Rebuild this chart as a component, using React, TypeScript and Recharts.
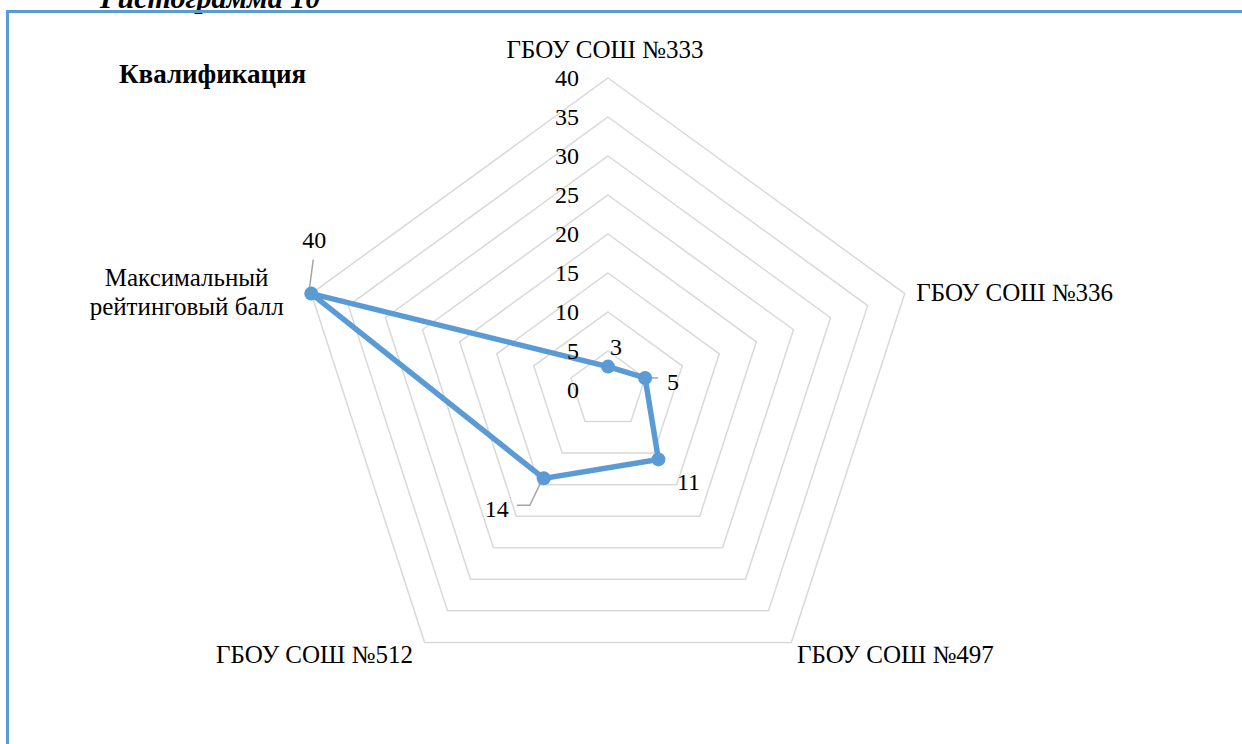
import React from 'react';
import { RadarChart, Radar, PolarGrid, PolarAngleAxis, PolarRadiusAxis, LabelList } from 'recharts';

const categories = [
  'ГБОУ СОШ №333',
  'ГБОУ СОШ №336',
  'ГБОУ СОШ №497',
  'ГБОУ СОШ №512',
  'Максимальный рейтинговый балл',
];
const values = [3, 5, 11, 14, 40];
const radiusTicks = [0, 5, 10, 15, 20, 25, 30, 35, 40];

const chartData = categories.map((name, i) => ({ name, value: values[i] }));

const FONT = '"Times New Roman", Times, "Liberation Serif", "Noto Serif", "DejaVu Serif", FreeSerif, serif';
const BLUE = '#5b9bd5';

// per-category placement of the axis labels (relative to recharts' tick point)
const angleTickPlace = [
  { dx: -3, dy: -12, anchor: 'middle' },
  { dx: 4, dy: 10, anchor: 'start' },
  { dx: 1, dy: 14, anchor: 'start' },
  { dx: -7, dy: 14, anchor: 'end' },
  { dx: -117, dy: -5, anchor: 'middle' },
];

// data label offsets + optional leader lines (relative to the point)
const labelPlace = [
  { dx: 8, dy: -12, leader: null },
  { dx: 28, dy: 12, leader: [[1, 0], [13, 0]] },
  { dx: 30, dy: 31, leader: null },
  { dx: -47, dy: 39, leader: [[-3, 4], [-14, 27], [-27, 27]] },
  { dx: 3, dy: -46, leader: [[2, -34], [-2, -4]] },
];

const renderAngleTick = (props: any) => {
  const { x, y, payload, index } = props;
  const p = angleTickPlace[index] || { dx: 0, dy: 0, anchor: 'middle' };
  const text: string = payload.value;
  let lines = [text];
  if (text.length > 20) {
    const cut = text.indexOf(' ');
    lines = [text.slice(0, cut), text.slice(cut + 1)];
  }
  return (
    <text x={x + p.dx} y={y + p.dy} textAnchor={p.anchor} fontSize={25} style={{ fontFamily: FONT }} fill="#000">
      {lines.map((l, i) => (
        <tspan key={i} x={x + p.dx} dy={i === 0 ? 0 : 29}>
          {l}
        </tspan>
      ))}
    </text>
  );
};

const renderRadiusTick = (props: any) => {
  const { x, y, payload } = props;
  return (
    <text x={x - 29} y={y + 8} textAnchor="end" fontSize={24} style={{ fontFamily: FONT }} fill="#000">
      {payload.value}
    </text>
  );
};

const renderValueLabel = (props: any) => {
  const { x, y, value, index } = props;
  const p = labelPlace[index];
  if (!p) return null;
  return (
    <g>
      {p.leader && (
        <polyline
          points={p.leader.map(([a, b]) => `${x + a},${y + b}`).join(' ')}
          fill="none"
          stroke="#a6a6a6"
          strokeWidth={1.5}
        />
      )}
      <circle cx={x} cy={y} r={7} fill={BLUE} />
      <text x={x + p.dx} y={y + p.dy} textAnchor="middle" fontSize={24} style={{ fontFamily: FONT }} fill="#000">
        {value}
      </text>
    </g>
  );
};

export default function App() {
  return (
    <div style={{ position: 'absolute', left: 0, top: 0, width: 1242, height: 744, overflow: 'hidden', background: '#fff', fontFamily: FONT }}>
      <div
        style={{
          position: 'absolute',
          left: 100,
          top: -17,
          fontSize: 30,
          fontWeight: 'bold',
          fontStyle: 'italic',
          lineHeight: '30px',
          whiteSpace: 'nowrap',
        }}
      >
        Гистограмма 10
      </div>
      <div
        style={{
          position: 'absolute',
          left: 6,
          top: 10,
          width: 1400,
          height: 900,
          borderTop: `3px solid ${BLUE}`,
          borderLeft: `3px solid ${BLUE}`,
        }}
      />
      <div
        style={{
          position: 'absolute',
          left: 119,
          top: 59,
          fontSize: 27,
          fontWeight: 'bold',
          lineHeight: '30px',
          whiteSpace: 'nowrap',
        }}
      >
        Квалификация
      </div>
      <div style={{ position: 'absolute', left: 0, top: 0 }}>
        <RadarChart width={1242} height={744} data={chartData} cx={608} cy={390} outerRadius={312} margin={{ top: 0, right: 0, bottom: 0, left: 0 }}>
          <PolarGrid gridType="polygon" radialLines={false} stroke="#d9d9d9" strokeWidth={1.5} />
          <PolarAngleAxis dataKey="name" tick={renderAngleTick} tickLine={false} axisLine={false} />
          <PolarRadiusAxis
            angle={90}
            domain={[0, 40]}
            ticks={radiusTicks}
            tickCount={9}
            tick={renderRadiusTick}
            axisLine={false}
            tickLine={false}
          />
          <Radar
            dataKey="value"
            stroke={BLUE}
            strokeWidth={5.5}
            fill="none"
            fillOpacity={0}
            dot={false}
            isAnimationActive={false}
          >
            <LabelList dataKey="value" content={renderValueLabel} />
          </Radar>
        </RadarChart>
      </div>
    </div>
  );
}
